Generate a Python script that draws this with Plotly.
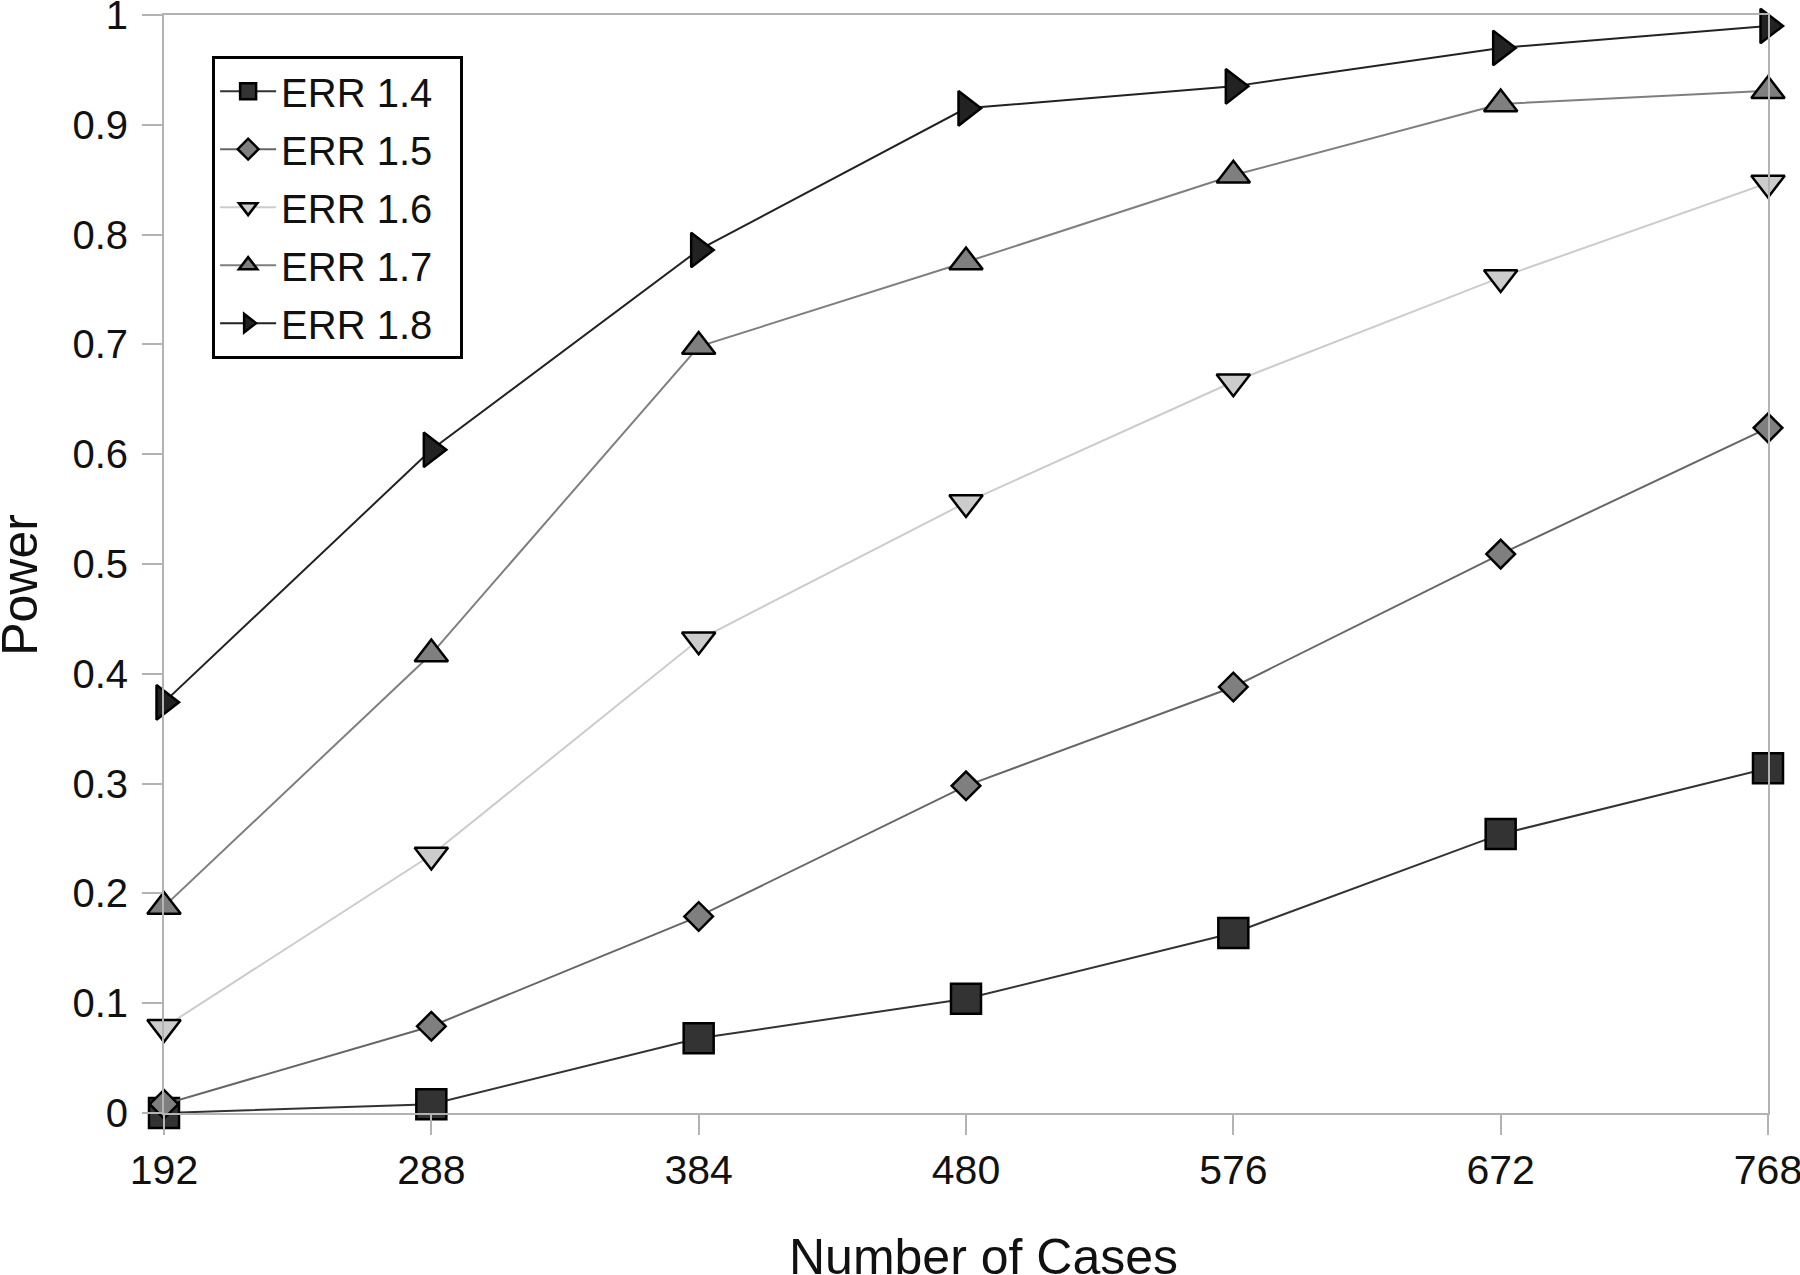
import plotly.graph_objects as go

cases = [192, 288, 384, 480, 576, 672, 768]
err_14 = [0.0, 0.008, 0.068, 0.104, 0.164, 0.254, 0.314]
err_15 = [0.008, 0.079, 0.179, 0.298, 0.388, 0.509, 0.624]
err_16 = [0.078, 0.235, 0.431, 0.556, 0.666, 0.761, 0.847]
err_17 = [0.188, 0.418, 0.698, 0.775, 0.854, 0.919, 0.931]
err_18 = [0.374, 0.604, 0.786, 0.915, 0.935, 0.970, 0.990]
series_names = ["ERR 1.4", "ERR 1.5", "ERR 1.6", "ERR 1.7", "ERR 1.8"]
y_ticks = [0, 0.1, 0.2, 0.3, 0.4, 0.5, 0.6, 0.7, 0.8, 0.9, 1]
y_tick_labels = ["0", "0.1", "0.2", "0.3", "0.4", "0.5", "0.6", "0.7", "0.8", "0.9", "1"]
x_title = "Number of Cases"
y_title = "Power"

series = [err_14, err_15, err_16, err_17, err_18]
styles = [
    dict(symbol="square", size=30, fill="#333333", line="#333333"),
    dict(symbol="diamond", size=22, fill="#7f7f7f", line="#666666"),
    dict(symbol="triangle-down", size=29, fill="#cccccc", line="#cccccc"),
    dict(symbol="triangle-up", size=29, fill="#7f7f7f", line="#7f7f7f"),
    dict(symbol="triangle-right", size=30, fill="#222222", line="#222222"),
]

fig = go.Figure()
for name, vals, st in zip(series_names, series, styles):
    fig.add_trace(go.Scatter(
        x=cases, y=vals, name=name + "\u00a0\u00a0", mode="lines+markers",
        line=dict(color=st["line"], width=2),
        marker=dict(symbol=st["symbol"], size=st["size"], color=st["fill"],
                    line=dict(color="#000000", width=2.5)),
        cliponaxis=False, legendgroup=name,
    ))

axis_color = "#b3b3b3"
fig.update_layout(
    width=1800, height=1275,
    paper_bgcolor="white", plot_bgcolor="white",
    margin=dict(l=164, r=32, t=15, b=162),
    font=dict(family="Liberation Sans", size=40, color="#111111"),
    showlegend=True,
    legend=dict(
        x=0.030, y=0.963, xanchor="left", yanchor="top",
        bordercolor="#000000", borderwidth=3, bgcolor="white",
        font=dict(size=40, family="Liberation Sans"),
        itemwidth=56, traceorder="grouped", tracegroupgap=3,
    ),
    xaxis=dict(
        range=[192, 768], tickvals=cases, ticktext=[str(c) for c in cases],
        showline=True, linecolor=axis_color, linewidth=2, mirror=True,
        ticks="outside", ticklen=20, tickwidth=2, tickcolor=axis_color,
        showgrid=False, zeroline=False, automargin=False,
        tickfont=dict(size=41), ticklabeloverflow="allow",
    ),
    yaxis=dict(
        range=[0, 1], tickvals=y_ticks, ticktext=y_tick_labels,
        showline=True, linecolor=axis_color, linewidth=2, mirror=True,
        ticks="outside", ticklen=20, tickwidth=2, tickcolor=axis_color,
        showgrid=False, zeroline=False, automargin=False,
        tickfont=dict(size=40), ticklabeloverflow="allow", ticklabelstandoff=6,
    ),
    annotations=[
        dict(text=x_title, xref="paper", yref="paper", x=0.5106, y=-0.1038,
             xanchor="center", yanchor="top", showarrow=False,
             font=dict(size=50, family="Liberation Sans", color="#111111")),
        dict(text=y_title, xref="paper", yref="paper", x=-0.0898, y=0.481,
             xanchor="center", yanchor="middle", showarrow=False, textangle=-90,
             font=dict(size=50, family="Liberation Sans", color="#111111")),
    ],
)

fig.write_html("out.html")
